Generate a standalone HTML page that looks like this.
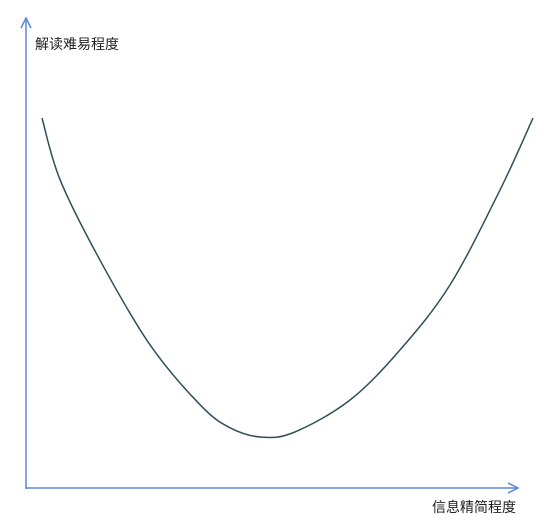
<!DOCTYPE html>
<html><head><meta charset="utf-8"><style>
html,body{margin:0;padding:0;background:#fff;}
svg{display:block;}
text{font-family:"Liberation Sans","Noto Sans CJK SC",sans-serif;font-size:14px;fill:#222;}
</style></head><body>
<svg id="chart" width="539" height="528">
<line x1="26" y1="489" x2="26" y2="18" stroke="#5b87d6" stroke-width="1.5"/>
<polyline points="21,28 26,18 31,28" fill="none" stroke="#5b87d6" stroke-width="1.5"/>
<line x1="26" y1="488" x2="518" y2="488" stroke="#5b87d6" stroke-width="1.5"/>
<polyline points="508,483 518,488 508,493" fill="none" stroke="#5b87d6" stroke-width="1.5"/>
<text x="35" y="49">解读难易程度</text>
<text x="432" y="512">信息精简程度</text>
<path id="curve" fill="none" stroke="#2f4f5a" stroke-width="1.5"/>
</svg>
<script>
// concision (x) vs difficulty (y), chart units 0..100
const xValues = [0, 3.7, 11.8, 22.0, 32.2, 38.3, 44.8, 51.5, 62.7, 72.9, 83.1, 93.3, 100];
const yValues = [78.1, 64.9, 47.8, 29.7, 16.9, 12.0, 10.0, 11.1, 17.9, 28.6, 42.5, 62.8, 78.1];
function sx(v){return 42 + v/100*(533-42);}
function sy(v){return 484 - v*4.685;}
const pts = xValues.map((x,i)=>[sx(x), sy(yValues[i])]);
let d = 'M'+pts[0][0]+','+pts[0][1];
for(let i=0;i<pts.length-1;i++){
  const p0=pts[Math.max(0,i-1)],p1=pts[i],p2=pts[i+1],p3=pts[Math.min(pts.length-1,i+2)];
  const c1=[p1[0]+(p2[0]-p0[0])/6,p1[1]+(p2[1]-p0[1])/6];
  const c2=[p2[0]-(p3[0]-p1[0])/6,p2[1]-(p3[1]-p1[1])/6];
  d+=' C'+c1[0]+','+c1[1]+' '+c2[0]+','+c2[1]+' '+p2[0]+','+p2[1];
}
document.getElementById('curve').setAttribute('d', d);
</script>
</body></html>
